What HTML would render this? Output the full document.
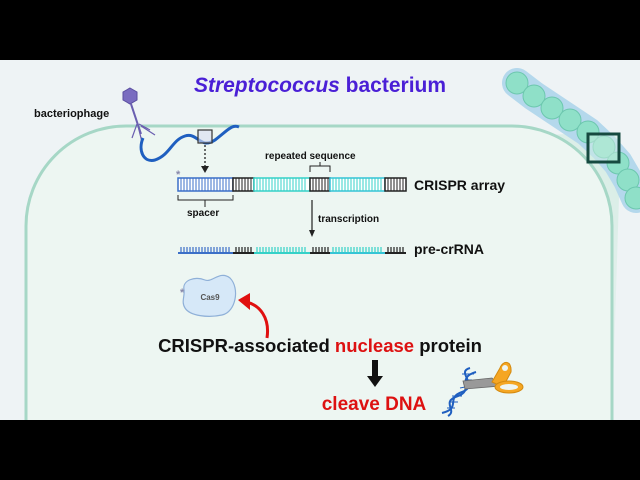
<!DOCTYPE html>
<html><head><style>
html,body{margin:0;padding:0;background:#000;width:640px;height:480px;overflow:hidden;}
svg{display:block;}
text{font-family:"Liberation Sans",sans-serif;font-weight:bold;}
</style></head><body>
<svg width="640" height="480" viewBox="0 0 640 480" xmlns="http://www.w3.org/2000/svg">
<rect x="0" y="0" width="640" height="480" fill="#000"/>
<rect x="0" y="60" width="640" height="360" fill="#eef3f5"/>
<defs>
<clipPath id="c"><rect x="0" y="60" width="640" height="360"/></clipPath>
<linearGradient id="w" x1="1" y1="0" x2="0" y2="1"><stop offset="0" stop-color="#cfeadf"/><stop offset="1" stop-color="#eef5f2" stop-opacity="0"/></linearGradient>
</defs>
<g clip-path="url(#c)">
<polygon points="587,133 620,165 612,420 430,420 450,140" fill="url(#w)" opacity="0.8"/>
<rect x="26" y="126" width="586" height="400" rx="100" ry="100" fill="#edf6f2" stroke="#a6d7c6" stroke-width="3"/>
<g stroke="#b4d8ec" stroke-width="30" stroke-linecap="round" fill="none"><polyline points="517,83 534,96 552,108 570,120 588,132 604,147 618,163 628,180 636,198"/></g>
<g fill="#8fe0c8" stroke="#6cc7ae" stroke-width="1">
<circle cx="517" cy="83" r="11"/><circle cx="534" cy="96" r="11"/><circle cx="552" cy="108" r="11"/><circle cx="570" cy="120" r="11"/><circle cx="588" cy="132" r="11"/><circle cx="604" cy="147" r="11"/><circle cx="618" cy="163" r="11"/><circle cx="628" cy="180" r="11"/><circle cx="636" cy="198" r="11"/>
</g>
<rect x="588" y="134" width="31" height="28" fill="#cdeee2" fill-opacity="0.5" stroke="#164a40" stroke-width="3"/>
</g>
<text x="320" y="92" font-size="21" fill="#4a1fd6" text-anchor="middle"><tspan font-style="italic">Streptococcus</tspan> bacterium</text>
<text x="34" y="117" font-size="11" fill="#111">bacteriophage</text>
<polygon points="130,88 137,92 137,100 130,104 123,100 123,92" fill="#7a6cc0" stroke="#5a4ea0"/>
<line x1="131" y1="104" x2="141" y2="134" stroke="#6a5eb0" stroke-width="2"/>
<g stroke="#6a5eb0" stroke-width="1.2"><line x1="137" y1="124" x2="132" y2="138"/><line x1="139" y1="124" x2="150" y2="130"/><line x1="141" y1="126" x2="155" y2="135"/><line x1="138" y1="126" x2="142" y2="142"/></g>
<path d="M143,138 C138,150 143,163 155,160 C170,155 172,140 185,136 C198,132 200,150 215,140 C228,130 232,124 239,127" fill="none" stroke="#1f5fc0" stroke-width="3"/>
<rect x="198" y="130" width="14" height="13" fill="#d8ddf2" fill-opacity="0.6" stroke="#333" stroke-width="1.2"/>
<line x1="205" y1="145" x2="205" y2="167" stroke="#222" stroke-width="1.3" stroke-dasharray="2,2"/>
<polygon points="201,166 209,166 205,173" fill="#222"/>
<g>
<rect x="178" y="178" width="55" height="13" fill="#fff" stroke="#3b6fc8" stroke-width="1.5"/>
<rect x="233" y="178" width="21" height="13" fill="#fff" stroke="#222" stroke-width="1.5"/>
<rect x="254" y="178" width="56" height="13" fill="#fff" stroke="#35d1c8" stroke-width="1.5"/>
<rect x="310" y="178" width="20" height="13" fill="#fff" stroke="#222" stroke-width="1.5"/>
<rect x="330" y="178" width="55" height="13" fill="#fff" stroke="#35c2d8" stroke-width="1.5"/>
<rect x="385" y="178" width="21" height="13" fill="#fff" stroke="#222" stroke-width="1.5"/>
<path d="M181,178V191M184,178V191M187,178V191M190,178V191M193,178V191M196,178V191M199,178V191M202,178V191M205,178V191M208,178V191M211,178V191M214,178V191M217,178V191M220,178V191M223,178V191M226,178V191M229,178V191" stroke="#3b6fc8"/>
<path d="M236,178V191M239,178V191M242,178V191M245,178V191M248,178V191M251,178V191M313,178V191M316,178V191M319,178V191M322,178V191M325,178V191M328,178V191M388,178V191M391,178V191M394,178V191M397,178V191M400,178V191M403,178V191" stroke="#222"/>
<path d="M257,178V191M260,178V191M263,178V191M266,178V191M269,178V191M272,178V191M275,178V191M278,178V191M281,178V191M284,178V191M287,178V191M290,178V191M293,178V191M296,178V191M299,178V191M302,178V191M305,178V191M333,178V191M336,178V191M339,178V191M342,178V191M345,178V191M348,178V191M351,178V191M354,178V191M357,178V191M360,178V191M363,178V191M366,178V191M369,178V191M372,178V191M375,178V191M378,178V191M381,178V191" stroke="#35d1c8"/>
</g>
<text x="176" y="178" font-size="11" fill="#8888aa">*</text>
<text x="414" y="190" font-size="14" fill="#111">CRISPR array</text>
<text x="265" y="159" font-size="10" fill="#111">repeated sequence</text>
<path d="M310,172V166H330V172M320,166V162" fill="none" stroke="#222"/>
<path d="M178,195V200H233V195M205,200V207" fill="none" stroke="#222"/>
<text x="187" y="216" font-size="10" fill="#111">spacer</text>
<line x1="312" y1="200" x2="312" y2="232" stroke="#222" stroke-width="1.2"/>
<polygon points="309,230 315,230 312,237" fill="#222"/>
<text x="318" y="222" font-size="10" fill="#111">transcription</text>
<g stroke-width="1.2">
<line x1="178" y1="253" x2="233" y2="253" stroke="#3b6fc8" stroke-width="2"/>
<line x1="233" y1="253" x2="254" y2="253" stroke="#222" stroke-width="2"/>
<line x1="254" y1="253" x2="310" y2="253" stroke="#35d1c8" stroke-width="2"/>
<line x1="310" y1="253" x2="330" y2="253" stroke="#222" stroke-width="2"/>
<line x1="330" y1="253" x2="385" y2="253" stroke="#35c2d8" stroke-width="2"/>
<line x1="385" y1="253" x2="406" y2="253" stroke="#222" stroke-width="2"/>
<path d="M181,247V253M184,247V253M187,247V253M190,247V253M193,247V253M196,247V253M199,247V253M202,247V253M205,247V253M208,247V253M211,247V253M214,247V253M217,247V253M220,247V253M223,247V253M226,247V253M229,247V253" stroke="#3b6fc8"/>
<path d="M236,247V253M239,247V253M242,247V253M245,247V253M248,247V253M251,247V253M313,247V253M316,247V253M319,247V253M322,247V253M325,247V253M328,247V253M388,247V253M391,247V253M394,247V253M397,247V253M400,247V253M403,247V253" stroke="#222"/>
<path d="M257,247V253M260,247V253M263,247V253M266,247V253M269,247V253M272,247V253M275,247V253M278,247V253M281,247V253M284,247V253M287,247V253M290,247V253M293,247V253M296,247V253M299,247V253M302,247V253M305,247V253M333,247V253M336,247V253M339,247V253M342,247V253M345,247V253M348,247V253M351,247V253M354,247V253M357,247V253M360,247V253M363,247V253M366,247V253M369,247V253M372,247V253M375,247V253M378,247V253M381,247V253" stroke="#35d1c8"/>
</g>
<text x="414" y="254" font-size="14" fill="#111">pre-crRNA</text>
<path d="M184,290 C182,280 195,276 205,280 C212,283 220,270 230,278 C240,288 236,312 222,315 C208,318 190,316 185,308 C181,302 185,296 184,290Z" fill="#d6e8f8" stroke="#8fb0d8" stroke-width="1.2"/>
<text x="180" y="296" font-size="11" fill="#8888aa">*</text>
<text x="210" y="300" font-size="8" fill="#555" text-anchor="middle" font-weight="normal">Cas9</text>
<path d="M267,338 C270,318 260,305 246,302" fill="none" stroke="#e01010" stroke-width="3"/>
<polygon points="238,300 250,293 250,310" fill="#e01010"/>
<text x="320" y="352" font-size="18.5" fill="#111" text-anchor="middle">CRISPR-associated <tspan fill="#dd1111">nuclease</tspan> protein</text>
<rect x="372" y="360" width="6" height="17" fill="#111"/>
<polygon points="367,376 383,376 375,387" fill="#111"/>
<text x="374" y="410" font-size="19" fill="#dd1111" text-anchor="middle">cleave DNA</text>
<path d="M470,368 C455,372 480,385 462,392 C445,398 462,408 442,413" fill="none" stroke="#1f5fc0" stroke-width="2"/>
<path d="M476,372 C455,378 475,390 458,396 C440,402 458,410 448,416" fill="none" stroke="#1f5fc0" stroke-width="2"/>
<path d="M462,374L474,374M465,380L472,380M460,388L470,386M452,396L462,396M450,402L458,402M447,408L455,408" stroke="#1f5fc0" stroke-width="1"/>
<polygon points="463,381 492,378 500,386 465,389" fill="#999" stroke="#666" stroke-width="0.8"/>
<path d="M492,382 L500,368 C503,360 512,360 511,372 L503,387Z" fill="#f5a623" stroke="#d48a10"/>
<ellipse cx="509" cy="387" rx="14" ry="6" fill="#f5a623" stroke="#d48a10"/>
<ellipse cx="509" cy="387" rx="9" ry="3" fill="#eef5f2"/>
<circle cx="505" cy="368" r="3" fill="#eef5f2"/>
</svg>
</body></html>
